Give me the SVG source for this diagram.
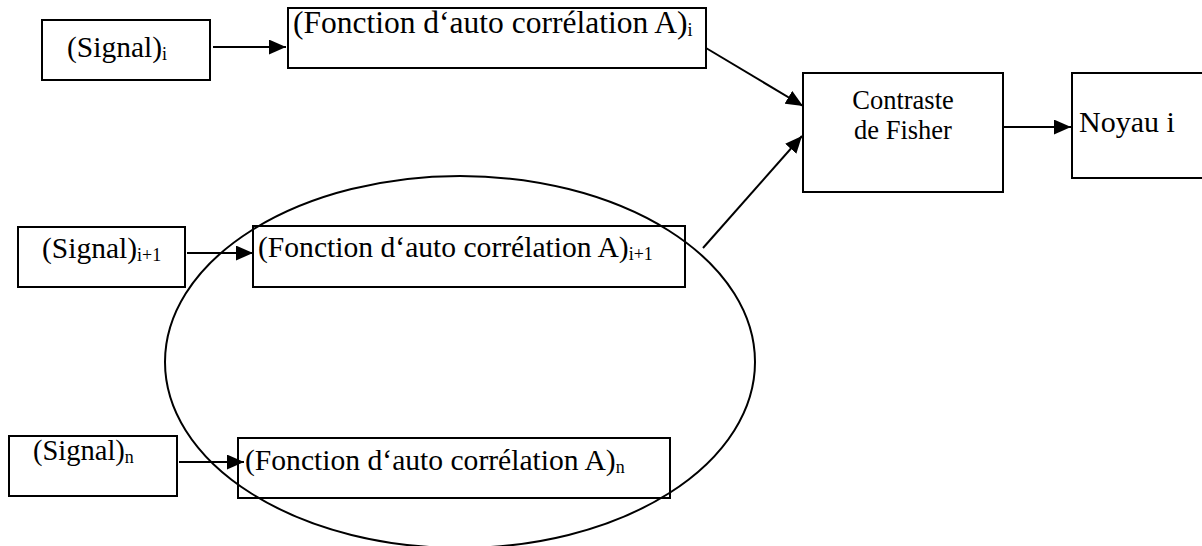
<svg xmlns="http://www.w3.org/2000/svg" width="1202" height="546" viewBox="0 0 1202 546">
  <style>
    .box { fill: #ffffff; stroke: #000000; stroke-width: 2; }
    .txt { font-family: "Liberation Serif", "Times New Roman", serif; fill: #000000; }
    .sub { font-size: 18px; }
    .edge { fill: none; stroke: #000000; stroke-width: 2; }
    .ring { fill: none; stroke: #000000; stroke-width: 2; }
  </style>
  <defs>
    <marker id="arrow" viewBox="0 0 16 14" refX="16" refY="7" markerWidth="17" markerHeight="15" markerUnits="userSpaceOnUse" orient="auto">
      <path d="M0,0 L16,7 L0,14 Z" fill="#000000"/>
    </marker>
  </defs>
  <rect width="1202" height="546" fill="#ffffff"/>

  <!-- signal inputs -->
  <g id="signal-i">
    <rect class="box" x="42" y="20" width="168" height="60"/>
    <text class="txt" x="67" y="57" font-size="29.5">(Signal)<tspan class="sub" dy="3">i</tspan></text>
  </g>
  <g id="signal-i1">
    <rect class="box" x="18" y="227" width="167" height="60"/>
    <text class="txt" x="42" y="258" font-size="29.5">(Signal)<tspan class="sub" dy="3">i+1</tspan></text>
  </g>
  <g id="signal-n">
    <rect class="box" x="9" y="436" width="168" height="60"/>
    <text class="txt" x="33" y="460" font-size="28.5">(Signal)<tspan class="sub" dy="3">n</tspan></text>
  </g>

  <!-- autocorrelation blocks -->
  <g id="autocorr-i">
    <rect class="box" x="288" y="8" width="418" height="60"/>
    <text class="txt" x="293" y="33" font-size="31.5">(Fonction d‘auto corrélation A)<tspan class="sub" dy="3">i</tspan></text>
  </g>
  <g id="autocorr-i1">
    <rect class="box" x="253" y="226" width="432" height="61"/>
    <text class="txt" x="258" y="257" font-size="29.6">(Fonction d‘auto corrélation A)<tspan class="sub" dy="3">i+1</tspan></text>
  </g>
  <g id="autocorr-n">
    <rect class="box" x="238" y="438" width="432" height="60"/>
    <text class="txt" x="245" y="470" font-size="29.6">(Fonction d‘auto corrélation A)<tspan class="sub" dy="3">n</tspan></text>
  </g>

  <!-- Fisher contrast and output -->
  <g id="fisher">
    <rect class="box" x="803" y="73" width="200" height="119"/>
    <text class="txt" x="903" y="109" font-size="26.5" text-anchor="middle">Contraste</text>
    <text class="txt" x="903" y="139" font-size="26.5" text-anchor="middle">de Fisher</text>
  </g>
  <g id="noyau">
    <rect class="box" x="1072" y="73" width="140" height="105"/>
    <text class="txt" x="1079" y="132" font-size="30">Noyau i</text>
  </g>

  <!-- grouping ellipse -->
  <g id="group-ellipse">
    <ellipse class="ring" cx="460" cy="362" rx="295" ry="186"/>
  </g>

  <!-- connectors -->
  <g id="connectors">
    <line class="edge" x1="213" y1="47" x2="286" y2="47" marker-end="url(#arrow)"/>
    <line class="edge" x1="187" y1="253" x2="253" y2="253" marker-end="url(#arrow)"/>
    <line class="edge" x1="179" y1="462" x2="244" y2="462" marker-end="url(#arrow)"/>
    <line class="edge" x1="706" y1="48" x2="803" y2="106" marker-end="url(#arrow)"/>
    <line class="edge" x1="703" y1="248" x2="802" y2="136" marker-end="url(#arrow)"/>
    <line class="edge" x1="1003" y1="127" x2="1071" y2="127" marker-end="url(#arrow)"/>
  </g>
</svg>
